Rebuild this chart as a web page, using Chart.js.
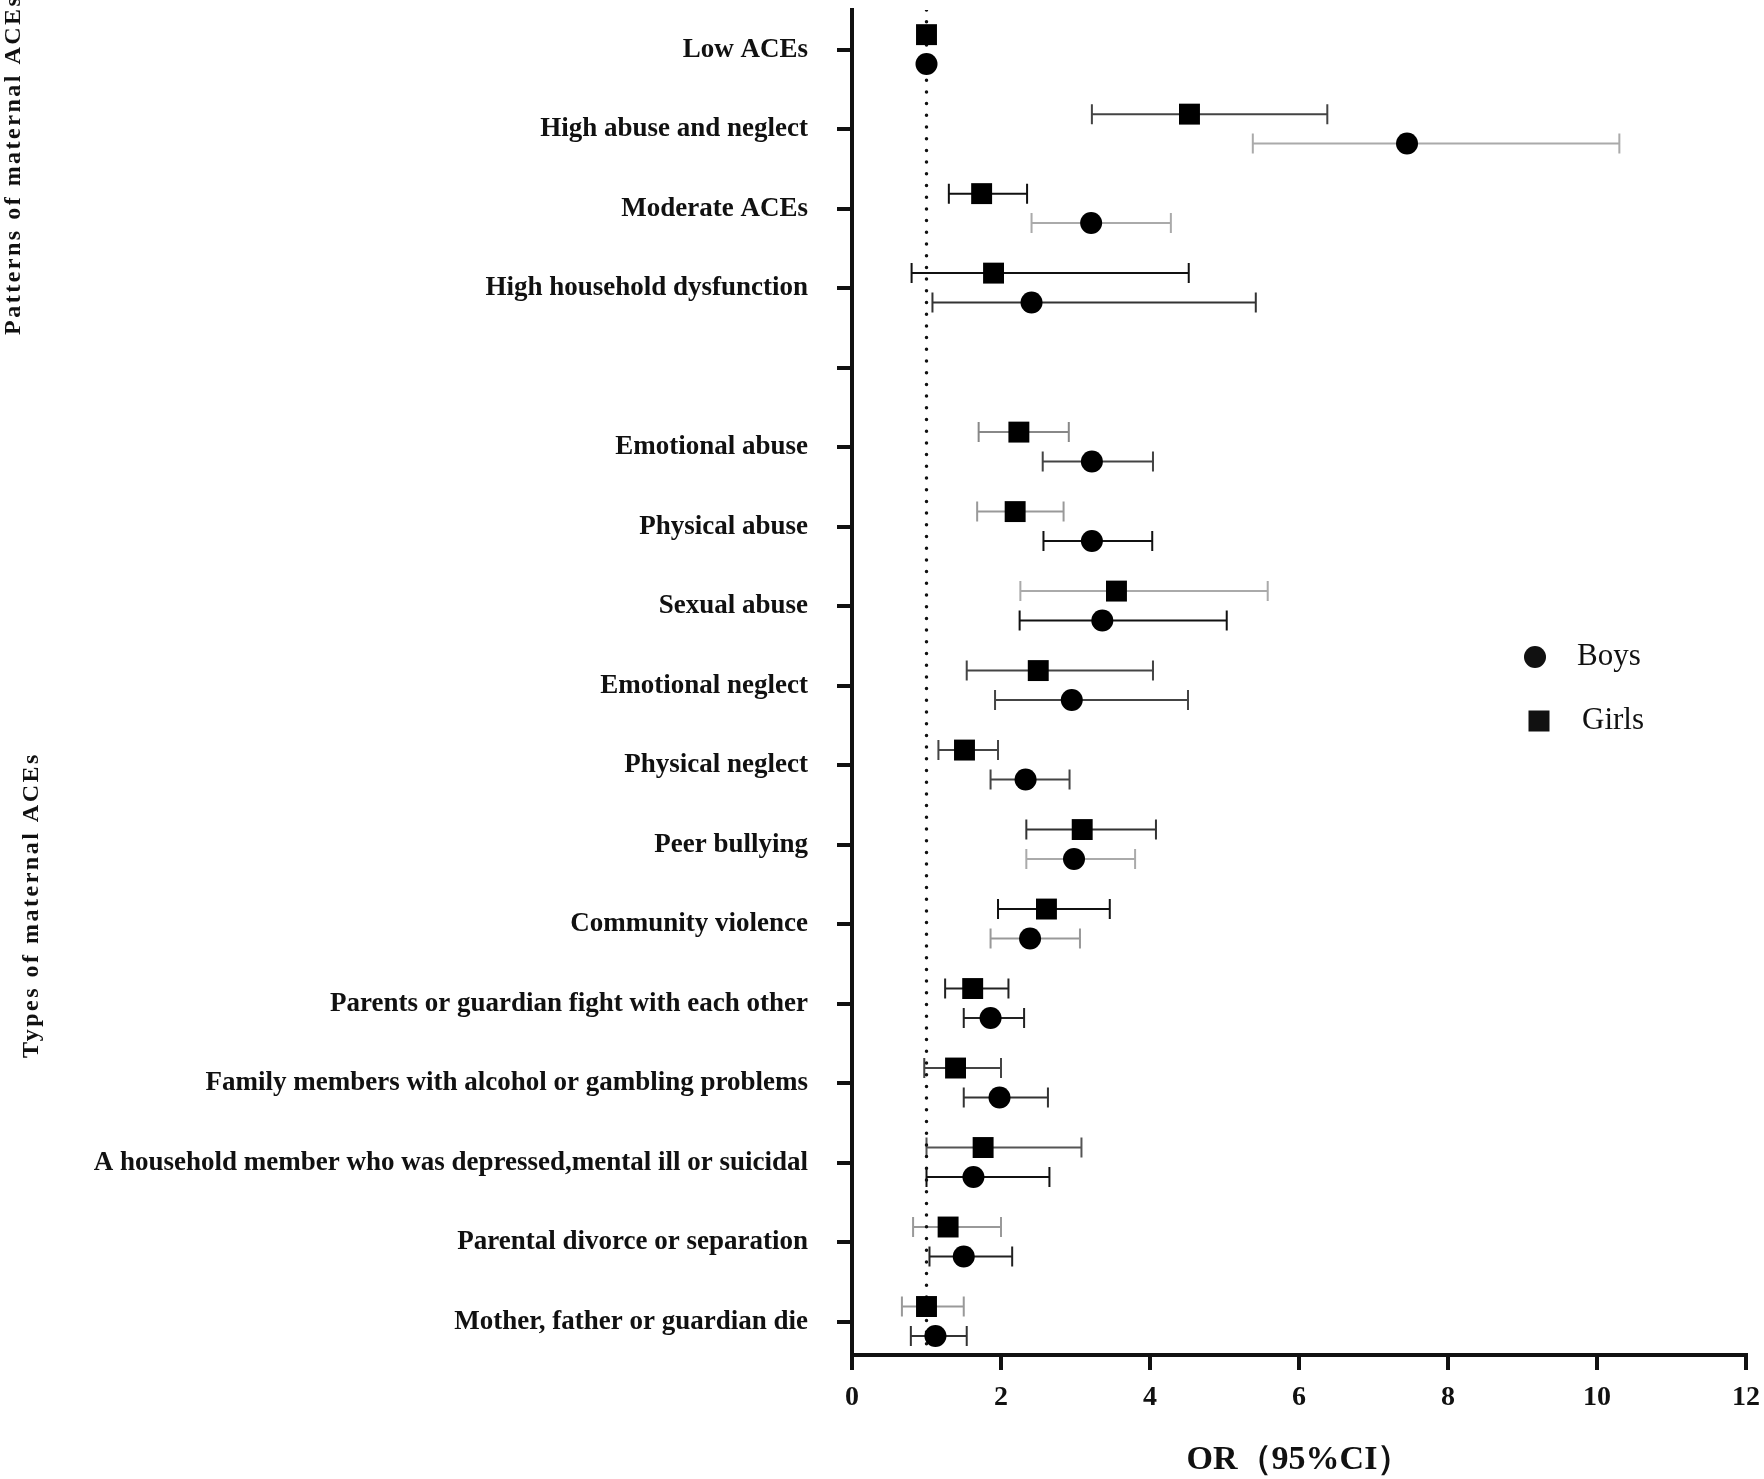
<!DOCTYPE html>
<html>
<head>
<meta charset="utf-8">
<script src="https://cdn.jsdelivr.net/npm/chart.js@4.4.1/dist/chart.umd.min.js"></script>
<style>
  html, body { margin: 0; padding: 0; background: #fff; }
  #wrap { width: 1764px; height: 1479px; }
</style>
</head>
<body>
<div id="wrap"><canvas id="myChart" width="1764" height="1479"></canvas></div>
<script>
// rows from top to bottom, the empty one is the gap between the two groups
const categories = [
    'Low ACEs',
    'High abuse and neglect',
    'Moderate ACEs',
    'High household dysfunction',
    '',
    'Emotional abuse',
    'Physical abuse',
    'Sexual abuse',
    'Emotional neglect',
    'Physical neglect',
    'Peer bullying',
    'Community violence',
    'Parents or guardian fight with each other',
    'Family members with alcohol or gambling problems',
    'A household member who was depressed,mental ill or suicidal',
    'Parental divorce or separation',
    'Mother, father or guardian die'
];

const boysOR   = [1.00, 7.45, 3.21, 2.41, null, 3.22, 3.22, 3.36, 2.95, 2.33, 2.98, 2.39, 1.86, 1.98, 1.63, 1.50, 1.12];
const boysLow  = [null, 5.38, 2.41, 1.08, null, 2.56, 2.57, 2.25, 1.92, 1.86, 2.34, 1.86, 1.50, 1.50, 1.00, 1.04, 0.79];
const boysHigh = [null, 10.30, 4.28, 5.42, null, 4.04, 4.03, 5.03, 4.51, 2.92, 3.80, 3.06, 2.31, 2.63, 2.65, 2.15, 1.54];

const girlsOR   = [1.00, 4.53, 1.74, 1.90, null, 2.24, 2.19, 3.55, 2.50, 1.51, 3.09, 2.61, 1.62, 1.39, 1.76, 1.29, 1.00];
const girlsLow  = [null, 3.22, 1.30, 0.80, null, 1.70, 1.68, 2.26, 1.54, 1.16, 2.34, 1.96, 1.25, 0.97, 1.00, 0.82, 0.67];
const girlsHigh = [null, 6.38, 2.35, 4.52, null, 2.91, 2.84, 5.58, 4.04, 1.96, 4.08, 3.46, 2.10, 2.00, 3.08, 2.00, 1.50];

const xTicks = [0, 2, 4, 6, 8, 10, 12];
const groupTitles = ['Patterns of maternal ACEs', 'Types of maternal ACEs'];
const legendLabels = ['Boys', 'Girls'];
const refValue = 1;

// whisker colours per row (the original mixes black and grey bars)
const boysBarColors  = [null, '#aaa', '#aaa', '#333', null, '#444', '#111', '#111', '#444', '#444', '#aaa', '#999', '#222', '#333', '#111', '#222', '#333'];
const girlsBarColors = [null, '#444', '#111', '#111', null, '#888', '#999', '#aaa', '#444', '#444', '#333', '#111', '#222', '#444', '#555', '#999', '#999'];

const BOYS_SHIFT = 0.18;
const GIRLS_SHIFT = -0.19;
const serif = '"Liberation Serif", "Times New Roman", serif';
const ink = '#111';

const toPoints = (vals, shift) => vals
    .map((v, i) => v == null ? null : { x: v, y: i + shift })
    .filter(p => p);

const errorBars = {
    id: 'errorBars',
    beforeDatasetsDraw(chart) {
        const x = chart.scales.x, y = chart.scales.y, ctx = chart.ctx;
        const series = [
            { lo: girlsLow, hi: girlsHigh, colors: girlsBarColors, shift: GIRLS_SHIFT },
            { lo: boysLow, hi: boysHigh, colors: boysBarColors, shift: BOYS_SHIFT }
        ];
        ctx.save();
        ctx.lineWidth = 2;
        for (const s of series) {
            s.lo.forEach((lo, i) => {
                const hi = s.hi[i];
                if (lo == null || hi == null) return;
                const py = y.getPixelForValue(i + s.shift);
                const x1 = x.getPixelForValue(lo);
                const x2 = x.getPixelForValue(hi);
                ctx.strokeStyle = s.colors[i];
                ctx.beginPath();
                ctx.moveTo(x1, py); ctx.lineTo(x2, py);
                ctx.moveTo(x1, py - 10); ctx.lineTo(x1, py + 10);
                ctx.moveTo(x2, py - 10); ctx.lineTo(x2, py + 10);
                ctx.stroke();
            });
        }
        ctx.restore();
    }
};

// group titles on the far left and the legend on the right
const sideText = {
    id: 'sideText',
    afterDraw(chart) {
        const ctx = chart.ctx, area = chart.chartArea;
        ctx.save();
        ctx.fillStyle = ink;
        ctx.font = 'bold 24px ' + serif;
        ctx.letterSpacing = '2.5px';
        ctx.textAlign = 'left';
        ctx.textBaseline = 'middle';
        // text runs upwards from its lower end
        const spots = [[14, 335], [32, 1058]];
        groupTitles.forEach((t, i) => {
            ctx.save();
            ctx.translate(spots[i][0], spots[i][1]);
            ctx.rotate(-Math.PI / 2);
            ctx.fillText(t, 0, 0);
            ctx.restore();
        });
        ctx.letterSpacing = '0px';

        const lx = area.right - 211;
        const ly = area.top + 647;
        ctx.font = '31px ' + serif;
        ctx.beginPath();
        ctx.arc(lx, ly, 11, 0, Math.PI * 2);
        ctx.fill();
        ctx.fillRect(lx + 4 - 10.5, ly + 64 - 10.5, 21, 21);
        ctx.fillText(legendLabels[0], lx + 42, ly);
        ctx.fillText(legendLabels[1], lx + 47, ly + 64);
        ctx.restore();
    }
};

const ctx = document.getElementById('myChart').getContext('2d');
const myChart = new Chart(ctx, {
    type: 'scatter',
    data: {
        datasets: [
            {
                label: 'Girls',
                data: toPoints(girlsOR, GIRLS_SHIFT),
                pointStyle: 'rect',
                pointRadius: 14.8,
                backgroundColor: '#000',
                borderColor: '#000',
                borderWidth: 0,
                order: 1
            },
            {
                label: 'Boys',
                data: toPoints(boysOR, BOYS_SHIFT),
                pointStyle: 'circle',
                pointRadius: 11,
                backgroundColor: '#000',
                borderColor: '#000',
                borderWidth: 0,
                order: 1
            },
            {
                type: 'line',
                label: 'OR = 1',
                data: [{ x: refValue, y: -0.5 }, { x: refValue, y: 16.45 }],
                borderColor: ink,
                borderWidth: 3.5,
                borderDash: [0, 11.7],
                borderCapStyle: 'round',
                pointRadius: 0,
                order: 3
            }
        ]
    },
    options: {
        responsive: false,
        animation: false,
        devicePixelRatio: 1,
        layout: { autoPadding: false, padding: { top: 10, right: 18, left: 0, bottom: 0 } },
        plugins: {
            legend: { display: false },
            tooltip: { enabled: false }
        },
        scales: {
            x: {
                type: 'linear',
                position: 'bottom',
                min: 0,
                max: 12,
                afterBuildTicks: s => { s.ticks = xTicks.map(v => ({ value: v })); },
                ticks: { color: ink, font: { family: serif, size: 28, weight: 'bold' }, padding: 11, maxRotation: 0, autoSkip: false },
                grid: { drawOnChartArea: false, drawTicks: true, tickLength: 15, lineWidth: 4, color: ink },
                border: { display: true, width: 4, color: ink },
                title: { display: true, text: 'OR（95%CI）', color: ink, font: { family: serif, size: 34, weight: 'bold', lineHeight: 1.1 }, padding: 0 },
                afterFit: s => { s.height = 124; s.paddingLeft = 0; s.paddingRight = 0; }
            },
            y: {
                type: 'linear',
                min: -0.5,
                max: 16.42,
                reverse: true,
                afterBuildTicks: s => { s.ticks = categories.map((c, i) => ({ value: i })); },
                ticks: {
                    color: ink,
                    font: { family: serif, size: 27, weight: 'bold' },
                    padding: 29,
                    autoSkip: false,
                    callback: v => categories[v]
                },
                grid: { drawOnChartArea: false, drawTicks: true, tickLength: 15, lineWidth: 4, color: ink },
                border: { display: true, width: 4, color: ink },
                afterFit: s => { s.width = 852; s.paddingTop = 0; s.paddingBottom = 0; }
            }
        }
    },
    plugins: [errorBars, sideText]
});
</script>
</body>
</html>
